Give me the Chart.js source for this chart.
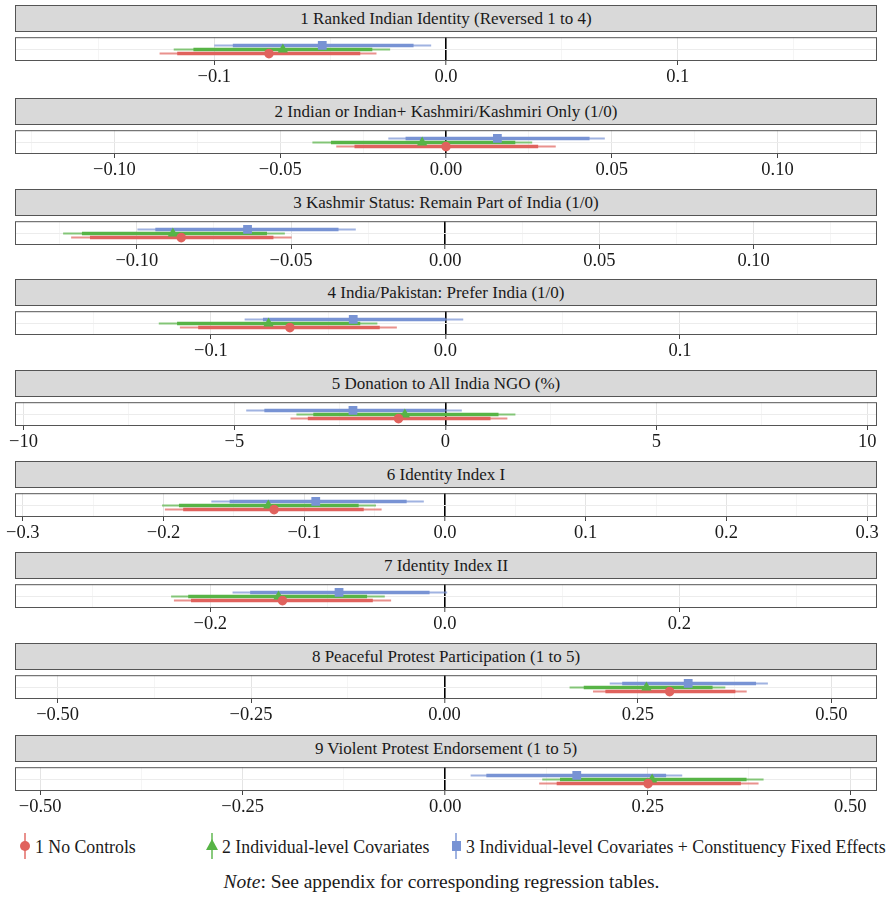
<!DOCTYPE html>
<html>
<head>
<meta charset="utf-8">
<script src="https://cdn.jsdelivr.net/npm/chart.js@4.4.1/dist/chart.umd.min.js"></script>
<style>
  html, body { margin: 0; padding: 0; background: #fff; }
  #wrap { position: relative; width: 893px; height: 897px; font-family: "Liberation Serif", "DejaVu Serif", serif; color: #1a1a1a; }
  .strip { position: absolute; left: 15px; width: 862px; height: 27px; box-sizing: border-box;
           background: #d9d9d9; border: 1px solid #555; font-size: 17px; line-height: 25px; text-align: center; }
  canvas.panel { position: absolute; left: 0; }
  .leg { position: absolute; top: 837px; font-size: 17.8px; line-height: 20px; white-space: nowrap; }
  .glyph { position: absolute; }
  .note { position: absolute; top: 871px; left: 0; width: 883px; text-align: center; font-size: 19.5px; }
</style>
</head>
<body>
<div id="wrap"></div>
<script>
// facet titles
const panelTitles = [
  '1 Ranked Indian Identity (Reversed 1 to 4)',
  '2 Indian or Indian+ Kashmiri/Kashmiri Only (1/0)',
  '3 Kashmir Status: Remain Part of India (1/0)',
  '4 India/Pakistan: Prefer India (1/0)',
  '5 Donation to All India NGO (%)',
  '6 Identity Index I',
  '7 Identity Index II',
  '8 Peaceful Protest Participation (1 to 5)',
  '9 Violent Protest Endorsement (1 to 5)'
];

// x range of each facet
const axisMin = [-0.186, -0.13, -0.1395, -0.1835, -10.2, -0.3055, -0.3665, -0.555, -0.531];
const axisMax = [0.186, 0.13, 0.14, 0.184, 10.23, 0.307, 0.3685, 0.559, 0.533];

const majorTicks = [
  [-0.1, 0, 0.1],
  [-0.1, -0.05, 0, 0.05, 0.1],
  [-0.1, -0.05, 0, 0.05, 0.1],
  [-0.1, 0, 0.1],
  [-10, -5, 0, 5, 10],
  [-0.3, -0.2, -0.1, 0, 0.1, 0.2, 0.3],
  [-0.2, 0, 0.2],
  [-0.5, -0.25, 0, 0.25, 0.5],
  [-0.5, -0.25, 0, 0.25, 0.5]
];
const tickLabels = [
  ['−0.1', '0.0', '0.1'],
  ['−0.10', '−0.05', '0.00', '0.05', '0.10'],
  ['−0.10', '−0.05', '0.00', '0.05', '0.10'],
  ['−0.1', '0.0', '0.1'],
  ['−10', '−5', '0', '5', '10'],
  ['−0.3', '−0.2', '−0.1', '0.0', '0.1', '0.2', '0.3'],
  ['−0.2', '0.0', '0.2'],
  ['−0.50', '−0.25', '0.00', '0.25', '0.50'],
  ['−0.50', '−0.25', '0.00', '0.25', '0.50']
];
const minorTicks = [
  [-0.15, -0.05, 0.05, 0.15],
  [-0.125, -0.075, -0.025, 0.025, 0.075, 0.125],
  [-0.125, -0.075, -0.025, 0.025, 0.075, 0.125],
  [-0.15, -0.05, 0.05, 0.15],
  [-7.5, -2.5, 2.5, 7.5],
  [-0.25, -0.15, -0.05, 0.05, 0.15, 0.25],
  [-0.3, -0.1, 0.1, 0.3],
  [-0.375, -0.125, 0.125, 0.375],
  [-0.375, -0.125, 0.125, 0.375]
];

// one row per facet: [lo95, lo90, estimate, hi90, hi95]
const noControls = [
  [-0.1236, -0.116, -0.0764, -0.037, -0.030],
  [-0.0331, -0.0276, 0.0, 0.0278, 0.0331],
  [-0.1213, -0.1152, -0.0856, -0.0557, -0.0498],
  [-0.1132, -0.1054, -0.0663, -0.028, -0.0207],
  [-3.67, -3.26, -1.11, 1.07, 1.47],
  [-0.199, -0.186, -0.1214, -0.0577, -0.045],
  [-0.231, -0.2164, -0.1384, -0.0614, -0.0458],
  [0.192, 0.208, 0.291, 0.376, 0.3906],
  [0.116, 0.1376, 0.2504, 0.365, 0.3868]
];
const individualCov = [
  [-0.1175, -0.109, -0.0704, -0.0318, -0.0241],
  [-0.0403, -0.0347, -0.0072, 0.0209, 0.026],
  [-0.1239, -0.1178, -0.0883, -0.0578, -0.052],
  [-0.1222, -0.1144, -0.0754, -0.0363, -0.029],
  [-3.53, -3.13, -0.96, 1.26, 1.66],
  [-0.201, -0.189, -0.1255, -0.0613, -0.049],
  [-0.2334, -0.2188, -0.1418, -0.0663, -0.0512],
  [0.1617, 0.180, 0.261, 0.3465, 0.363],
  [0.1198, 0.1417, 0.2554, 0.372, 0.393]
];
const constituencyFE = [
  [-0.100, -0.092, -0.0534, -0.014, -0.0064],
  [-0.0174, -0.0122, 0.0155, 0.0433, 0.0479],
  [-0.0998, -0.094, -0.0641, -0.0346, -0.029],
  [-0.0856, -0.0778, -0.0393, 0.0, 0.0076],
  [-4.72, -4.29, -2.19, -0.01, 0.39],
  [-0.166, -0.153, -0.0918, -0.0272, -0.015],
  [-0.181, -0.166, -0.0902, -0.013, 0.002],
  [0.2136, 0.2297, 0.315, 0.4027, 0.418],
  [0.0314, 0.0508, 0.1624, 0.2727, 0.2926]
];

const models = [
  { name: '1 No Controls', rows: noControls, color: '#e0625d', light: 'rgba(224,98,93,0.7)', shape: 'circle', radius: 4.8, y: 1 },
  { name: '2 Individual-level Covariates', rows: individualCov, color: '#57b446', light: 'rgba(87,180,70,0.7)', shape: 'triangle', radius: 6, y: 2 },
  { name: '3 Individual-level Covariates + Constituency Fixed Effects', rows: constituencyFE, color: '#7893d4', light: 'rgba(120,147,212,0.7)', shape: 'rect', radius: 6.2, y: 3 }
];

const stripTop = [5, 98, 189, 279, 370, 461, 552, 643, 735];
const wrap = document.getElementById('wrap');

// panel frame drawn round the plot area
const panelBox = {
  id: 'panelBox',
  afterDraw(chart) {
    const a = chart.chartArea, ctx = chart.ctx;
    ctx.save();
    ctx.strokeStyle = '#555';
    ctx.lineWidth = 1;
    ctx.strokeRect(a.left + 0.5, a.top + 0.5, a.right - a.left - 1, a.bottom - a.top - 1);
    ctx.restore();
  }
};

panelTitles.forEach((title, p) => {
  const strip = document.createElement('div');
  strip.className = 'strip';
  strip.style.top = stripTop[p] + 'px';
  strip.textContent = title;
  wrap.appendChild(strip);

  const cv = document.createElement('canvas');
  cv.className = 'panel';
  cv.width = 893; cv.height = 60;
  cv.style.top = (stripTop[p] + 26) + 'px';
  wrap.appendChild(cv);

  const datasets = [];
  models.forEach((m, k) => {
    const r = m.rows[p];
    datasets.push({
      data: [{ x: r[2], y: m.y }],
      pointStyle: m.shape, pointRadius: m.radius, pointHoverRadius: m.radius,
      backgroundColor: m.color, borderColor: m.color, borderWidth: 0, order: 0
    });
    datasets.push({
      data: [{ x: r[1], y: m.y }, { x: r[3], y: m.y }],
      showLine: true, borderColor: m.color, borderWidth: 3.5, pointRadius: 0,
      borderCapStyle: 'butt', order: 1
    });
    datasets.push({
      data: [{ x: r[0], y: m.y }, { x: r[4], y: m.y }],
      showLine: true, borderColor: m.light, borderWidth: 2, pointRadius: 0,
      borderCapStyle: 'butt', order: 2
    });
  });

  const ticks = majorTicks[p].map((v, i) => ({ value: v, text: tickLabels[p][i] }))
    .concat(minorTicks[p].map(v => ({ value: v, text: '', minor: true })));

  new Chart(cv.getContext('2d'), {
    type: 'scatter',
    data: { datasets },
    options: {
      responsive: false,
      animation: false,
      events: [],
      layout: { padding: { left: 15, right: 16, top: 1, bottom: 0 } },
      plugins: { legend: { display: false }, tooltip: { enabled: false } },
      scales: {
        x: {
          type: 'linear', min: axisMin[p], max: axisMax[p],
          afterBuildTicks: s => { s.ticks = ticks.map(t => ({ ...t })); },
          afterFit: s => { s.height = 30; },
          ticks: {
            autoSkip: false, maxRotation: 0, padding: 1,
            color: '#1a1a1a',
            font: { family: '"Liberation Serif", serif', size: 18.5 },
            callback: (v, i, ts) => ts[i].text
          },
          grid: {
            color: c => c.tick && c.tick.value === 0 ? '#000' : (c.tick && c.tick.minor ? '#f2f2f2' : '#e4e4e4'),
            lineWidth: c => c.tick && c.tick.value === 0 ? 1.6 : (c.tick && c.tick.minor ? 0.8 : 1),
            tickColor: c => c.tick && c.tick.minor ? 'rgba(0,0,0,0)' : '#444',
            tickWidth: 1, tickLength: 4
          },
          border: { display: false }
        },
        y: {
          type: 'linear', min: -0.8, max: 5,
          afterBuildTicks: s => { s.ticks = [{ value: 2 }]; },
          afterFit: s => { s.width = 0; },
          ticks: { display: false },
          grid: { color: '#ececec', lineWidth: 1, drawTicks: false },
          border: { display: false }
        }
      }
    },
    plugins: [panelBox]
  });
});

// legend
const legendLeft = [25, 212, 456];
models.forEach((m, k) => {
  const x = legendLeft[k];
  const line = document.createElement('div');
  line.className = 'glyph';
  line.style.cssText = `left:${x - 1}px;top:833px;width:2px;height:26px;background:${m.light};`;
  wrap.appendChild(line);
  const g = document.createElement('div');
  g.className = 'glyph';
  if (m.shape === 'circle') {
    g.style.cssText = `left:${x - 5}px;top:841px;width:10px;height:10px;border-radius:50%;background:${m.color};`;
  } else if (m.shape === 'triangle') {
    g.style.cssText = `left:${x - 6}px;top:839px;width:0;height:0;border-left:6px solid transparent;border-right:6px solid transparent;border-bottom:11px solid ${m.color};`;
  } else {
    g.style.cssText = `left:${x - 4}px;top:841px;width:9px;height:10px;background:${m.color};`;
  }
  wrap.appendChild(g);
  const t = document.createElement('div');
  t.className = 'leg';
  t.style.left = (x + 10) + 'px';
  t.textContent = m.name;
  wrap.appendChild(t);
});

const note = document.createElement('div');
note.className = 'note';
note.innerHTML = '<i>Note</i>: See appendix for corresponding regression tables.';
wrap.appendChild(note);
</script>
</body>
</html>
